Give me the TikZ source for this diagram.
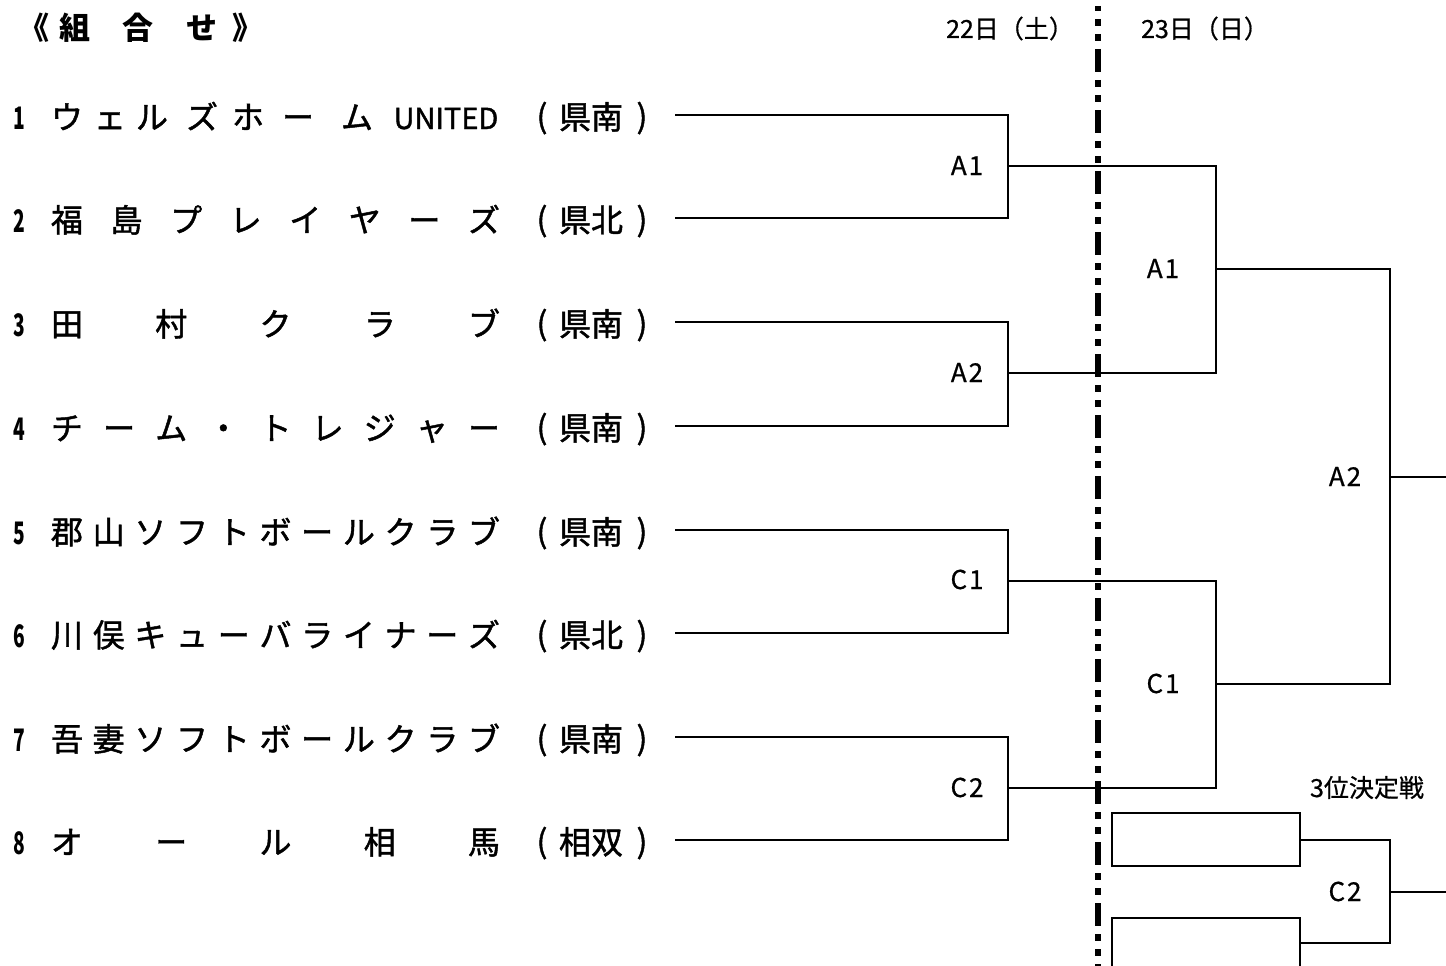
\documentclass[tikz,border=0pt]{standalone}
\usepackage{fontspec}
\setmainfont{Noto Sans CJK JP}
\newfontfamily\nmfont{Noto Sans CJK JP}[FakeBold=1.4]
\newfontfamily\lbfont{Noto Sans CJK JP}[FakeBold=0.7]
\usepackage{graphicx}
\begin{document}
\begin{tikzpicture}[x=1pt,y=-1pt,
  br/.style={line width=2.8pt},
  dd/.style={line width=5.5pt, dash pattern=on 23pt off 8pt on 7pt off 8pt on 7pt off 8pt, dash phase=18pt},
  nm/.style={anchor=base, inner sep=0pt, font=\nmfont\fontsize{32}{34}\selectfont},
  num/.style={anchor=base, inner sep=0pt, font=\fontsize{31}{33}\selectfont\bfseries},
  ttl/.style={anchor=base, inner sep=0pt, font=\fontsize{31}{33}\selectfont\bfseries},
  hdr/.style={anchor=base, inner sep=0pt, font=\lbfont\fontsize{25}{27}\selectfont},
  lbl/.style={anchor=base, inner sep=0pt, font=\lbfont\fontsize{26}{28}\selectfont},
]
\useasboundingbox (0,0) rectangle (1446,966);

% ---- title and dates
\node[ttl] (t0) at (34,40) {《};
\node[ttl] (t1) at (75,40) {組};
\node[ttl] (t2) at (138,40) {合};
\node[ttl] (t3) at (202,40) {せ};
\node[ttl] (t4) at (248,40) {》};
\node[hdr] (d1) at (1010,38) {22日（土）};
\node[hdr] (d2) at (1205,38) {23日（日）};

% ---- team rows
\foreach \n/\ry in {1/115,2/218,3/322,4/426,5/530,6/633,7/737,8/840}{
  \node[num] (no\n) at (19,\ry+14) {\scalebox{0.62}[1]{\n}};
  \node[nm] (po\n) at (542,\ry+13) {(};
  \node[nm] (pc\n) at (642,\ry+13) {)};
}
% row 1
\foreach \c/\px in {ウ/67,ェ/110,ル/152,ズ/202,ホ/248,ー/298,ム/357}{
  \node[nm] (r1\px) at (\px,129) {\c};}
\node[nm, font=\nmfont\fontsize{29}{31}\selectfont] (r1u) at (446,129) {UNITED};
\node[nm] (r1p) at (575,129) {県};\node[nm] (r1q) at (607,129) {南};
% row 2
\foreach \c [count=\k from 0] in {福,島,プ,レ,イ,ヤ,ー,ズ}{
  \node[nm] (r2c\k) at ({67+\k*417/7},232) {\c};}
\node[nm] (r2p) at (575,232) {県};\node[nm] (r2q) at (607,232) {北};
% row 3
\foreach \c [count=\k from 0] in {田,村,ク,ラ,ブ}{
  \node[nm] (r3c\k) at ({67+\k*417/4},336) {\c};}
\node[nm] (r3p) at (575,336) {県};\node[nm] (r3q) at (607,336) {南};
% row 4
\foreach \c [count=\k from 0] in {チ,ー,ム,・,ト,レ,ジ,ャ,ー}{
  \node[nm] (r4c\k) at ({67+\k*417/8},440) {\c};}
\node[nm] (r4p) at (575,440) {県};\node[nm] (r4q) at (607,440) {南};
% row 5
\foreach \c [count=\k from 0] in {郡,山,ソ,フ,ト,ボ,ー,ル,ク,ラ,ブ}{
  \node[nm] (r5c\k) at ({67+\k*417/10},544) {\c};}
\node[nm] (r5p) at (575,544) {県};\node[nm] (r5q) at (607,544) {南};
% row 6
\foreach \c [count=\k from 0] in {川,俣,キ,ュ,ー,バ,ラ,イ,ナ,ー,ズ}{
  \node[nm] (r6c\k) at ({67+\k*417/10},647) {\c};}
\node[nm] (r6p) at (575,647) {県};\node[nm] (r6q) at (607,647) {北};
% row 7
\foreach \c [count=\k from 0] in {吾,妻,ソ,フ,ト,ボ,ー,ル,ク,ラ,ブ}{
  \node[nm] (r7c\k) at ({67+\k*417/10},751) {\c};}
\node[nm] (r7p) at (575,751) {県};\node[nm] (r7q) at (607,751) {南};
% row 8
\foreach \c [count=\k from 0] in {オ,ー,ル,相,馬}{
  \node[nm] (r8c\k) at ({67+\k*417/4},854) {\c};}
\node[nm] (r8p) at (575,854) {相};\node[nm] (r8q) at (607,854) {双};

% ---- bracket coordinates
\foreach \n/\ry in {1/115,2/218,3/322,4/426,5/530,6/633,7/737,8/840}{
  \coordinate (s\n) at (675,\ry);
  \coordinate (e\n) at (1008,\ry);
}
\coordinate (m1) at (1008,166);  \coordinate (k1) at (1216,166);
\coordinate (m2) at (1008,373);  \coordinate (k2) at (1216,373);
\coordinate (m3) at (1008,581);  \coordinate (k3) at (1216,581);
\coordinate (m4) at (1008,788);  \coordinate (k4) at (1216,788);
\coordinate (p1) at (1216,269);  \coordinate (q1) at (1390,269);
\coordinate (p2) at (1216,684);  \coordinate (q2) at (1390,684);
\coordinate (f1) at (1390,477);  \coordinate (f2) at (1446,477);
% third place
\coordinate (b1a) at (1300,813); \coordinate (b1b) at (1112,813);
\coordinate (b1c) at (1112,866); \coordinate (b1d) at (1300,866);
\coordinate (b1m) at (1300,840); \coordinate (g1) at (1390,840);
\coordinate (b2a) at (1112,966); \coordinate (b2b) at (1112,918);
\coordinate (b2c) at (1300,918); \coordinate (b2d) at (1300,966);
\coordinate (b2m) at (1300,943); \coordinate (g2) at (1390,943);
\coordinate (g3) at (1390,892);  \coordinate (g4) at (1446,892);

% ---- round 1
\draw[br] (s1) -- (e1) -- (e2) -- (s2);
\draw[br] (s3) -- (e3) -- (e4) -- (s4);
\draw[br] (s5) -- (e5) -- (e6) -- (s6);
\draw[br] (s7) -- (e7) -- (e8) -- (s8);
\draw[br] (m1) -- (k1) -- (k2) -- (m2);
\draw[br] (m3) -- (k3) -- (k4) -- (m4);
% ---- round 2 and final
\draw[br] (p1) -- (q1) -- (q2) -- (p2);
\draw[br] (f1) -- (f2);
% ---- third place
\draw[br] (b1a) -- (b1b) -- (b1c) -- (b1d) -- cycle;
\draw[br] (b2a) -- (b2b) -- (b2c) -- (b2d);
\draw[br] (b1m) -- (g1) -- (g2) -- (b2m);
\draw[br] (g3) -- (g4);

% ---- day divider
\coordinate (v1) at (1098,6); \coordinate (v2) at (1098,966);
\draw[dd] (v1) -- (v2);

% ---- match labels
\node[lbl] (la1) at (967,175) {A\kern2pt1};
\node[lbl] (la2) at (967,382) {A\kern2pt2};
\node[lbl] (lc1) at (967,589) {C\kern2pt1};
\node[lbl] (lc2) at (967,797) {C\kern2pt2};
\node[lbl] (sa1) at (1163,278) {A\kern2pt1};
\node[lbl] (sc1) at (1163,693) {C\kern2pt1};
\node[lbl] (fa2) at (1345,486) {A\kern2pt2};
\node[lbl] (fc2) at (1345,901) {C\kern2pt2};
\node[lbl, font=\lbfont\fontsize{25}{27}\selectfont] (third) at (1367,797) {3位決定戦};
\end{tikzpicture}
\end{document}
